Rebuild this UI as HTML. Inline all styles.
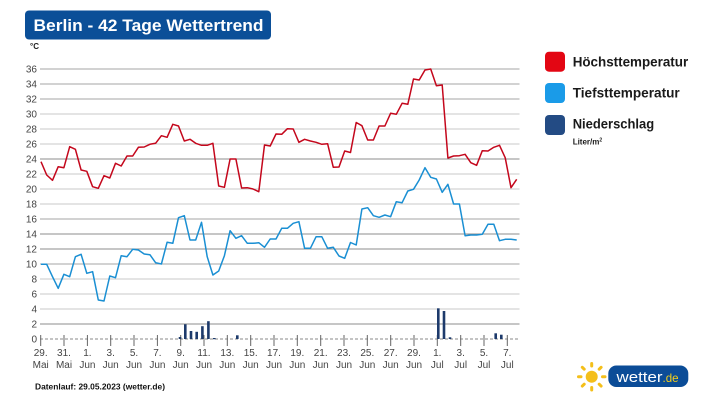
<!DOCTYPE html>
<html><head><meta charset="utf-8"><style>
html,body{margin:0;padding:0;background:#fff;}
svg{display:block;}
text{font-family:"Liberation Sans",Arial,sans-serif;}
</style></head><body>
<svg width="717" height="403" viewBox="0 0 717 403" xmlns="http://www.w3.org/2000/svg">
<rect width="717" height="403" fill="#fff"/>
<!-- title -->
<rect x="25" y="10.5" width="246" height="29" rx="4" fill="#0b4f98"/>
<text x="33.5" y="31" font-size="17" font-weight="bold" fill="#fff" textLength="230" lengthAdjust="spacingAndGlyphs">Berlin - 42 Tage Wettertrend</text>
<text x="30" y="49" font-size="8" font-weight="bold" fill="#222">°C</text>
<!-- gridlines -->
<g stroke="#a4a4a4" stroke-width="1">
<line x1="40" y1="69" x2="519.5" y2="69"/><line x1="40" y1="84" x2="519.5" y2="84"/><line x1="40" y1="99" x2="519.5" y2="99"/><line x1="40" y1="114" x2="519.5" y2="114" stroke="#c8c8c8"/><line x1="40" y1="129" x2="519.5" y2="129" stroke="#c8c8c8"/><line x1="40" y1="144" x2="519.5" y2="144" stroke="#c8c8c8"/><line x1="40" y1="159" x2="519.5" y2="159" stroke="#8c8c8c"/><line x1="40" y1="174" x2="519.5" y2="174" stroke="#c8c8c8"/><line x1="40" y1="189" x2="519.5" y2="189" stroke="#c8c8c8"/><line x1="40" y1="204" x2="519.5" y2="204" stroke="#c8c8c8"/><line x1="40" y1="219" x2="519.5" y2="219"/><line x1="40" y1="234" x2="519.5" y2="234" stroke="#8c8c8c"/><line x1="40" y1="249" x2="519.5" y2="249" stroke="#8c8c8c"/><line x1="40" y1="264" x2="519.5" y2="264"/><line x1="40" y1="279" x2="519.5" y2="279" stroke="#c8c8c8"/><line x1="40" y1="294" x2="519.5" y2="294" stroke="#c8c8c8"/><line x1="40" y1="309" x2="519.5" y2="309" stroke="#c8c8c8"/><line x1="40" y1="324" x2="519.5" y2="324" stroke="#8c8c8c"/>
</g>
<line x1="40" y1="339" x2="519.5" y2="339" stroke="#8a8a8a" stroke-width="1" stroke-dasharray="3,2"/>
<!-- y labels -->
<g font-size="10" fill="#444" text-anchor="end">
<text x="37" y="72.5">36</text><text x="37" y="87.5">34</text><text x="37" y="102.5">32</text><text x="37" y="117.5">30</text><text x="37" y="132.5">28</text><text x="37" y="147.5">26</text><text x="37" y="162.5">24</text><text x="37" y="177.5">22</text><text x="37" y="192.5">20</text><text x="37" y="207.5">18</text><text x="37" y="222.5">16</text><text x="37" y="237.5">14</text><text x="37" y="252.5">12</text><text x="37" y="267.5">10</text><text x="37" y="282.5">8</text><text x="37" y="297.5">6</text><text x="37" y="312.5">4</text><text x="37" y="327.5">2</text><text x="37" y="342.5">0</text>
</g>
<!-- x ticks -->
<g stroke="#666" stroke-width="1">
<line x1="40.7" y1="335" x2="40.7" y2="346"/><line x1="64" y1="335" x2="64" y2="346"/><line x1="87.4" y1="335" x2="87.4" y2="346"/><line x1="110.7" y1="335" x2="110.7" y2="346"/><line x1="134" y1="335" x2="134" y2="346"/><line x1="157.4" y1="335" x2="157.4" y2="346"/><line x1="180.7" y1="335" x2="180.7" y2="346"/><line x1="204" y1="335" x2="204" y2="346"/><line x1="227.3" y1="335" x2="227.3" y2="346"/><line x1="250.7" y1="335" x2="250.7" y2="346"/><line x1="274" y1="335" x2="274" y2="346"/><line x1="297.3" y1="335" x2="297.3" y2="346"/><line x1="320.7" y1="335" x2="320.7" y2="346"/><line x1="344" y1="335" x2="344" y2="346"/><line x1="367.3" y1="335" x2="367.3" y2="346"/><line x1="390.7" y1="335" x2="390.7" y2="346"/><line x1="414" y1="335" x2="414" y2="346"/><line x1="437.3" y1="335" x2="437.3" y2="346"/><line x1="460.7" y1="335" x2="460.7" y2="346"/><line x1="484" y1="335" x2="484" y2="346"/><line x1="507.3" y1="335" x2="507.3" y2="346"/>
</g>
<g font-size="10" fill="#444" text-anchor="middle">
<text x="40.7" y="356">29.</text><text x="40.7" y="368">Mai</text>
<text x="64" y="356">31.</text><text x="64" y="368">Mai</text>
<text x="87.4" y="356">1.</text><text x="87.4" y="368">Jun</text>
<text x="110.7" y="356">3.</text><text x="110.7" y="368">Jun</text>
<text x="134" y="356">5.</text><text x="134" y="368">Jun</text>
<text x="157.4" y="356">7.</text><text x="157.4" y="368">Jun</text>
<text x="180.7" y="356">9.</text><text x="180.7" y="368">Jun</text>
<text x="204" y="356">11.</text><text x="204" y="368">Jun</text>
<text x="227.3" y="356">13.</text><text x="227.3" y="368">Jun</text>
<text x="250.7" y="356">15.</text><text x="250.7" y="368">Jun</text>
<text x="274" y="356">17.</text><text x="274" y="368">Jun</text>
<text x="297.3" y="356">19.</text><text x="297.3" y="368">Jun</text>
<text x="320.7" y="356">21.</text><text x="320.7" y="368">Jun</text>
<text x="344" y="356">23.</text><text x="344" y="368">Jun</text>
<text x="367.3" y="356">25.</text><text x="367.3" y="368">Jun</text>
<text x="390.7" y="356">27.</text><text x="390.7" y="368">Jun</text>
<text x="414" y="356">29.</text><text x="414" y="368">Jun</text>
<text x="437.3" y="356">1.</text><text x="437.3" y="368">Jul</text>
<text x="460.7" y="356">3.</text><text x="460.7" y="368">Jul</text>
<text x="484" y="356">5.</text><text x="484" y="368">Jul</text>
<text x="507.3" y="356">7.</text><text x="507.3" y="368">Jul</text>
</g>
<!-- precipitation bars -->
<g fill="#1d3a6b">
<rect x="178.7" y="337" width="2.6" height="2"/>
<rect x="184" y="324.3" width="2.6" height="14.7"/>
<rect x="189.7" y="331" width="2.6" height="8"/>
<rect x="195.4" y="331.8" width="2.6" height="7.2"/>
<rect x="201.1" y="326.2" width="2.6" height="12.8"/>
<rect x="207.1" y="321.2" width="2.6" height="17.8"/>
<rect x="213" y="338" width="2.6" height="1.2"/>
<rect x="236" y="335.3" width="2.6" height="3.7"/>
<rect x="437" y="308.3" width="2.6" height="30.7"/>
<rect x="442.7" y="311" width="2.6" height="28"/>
<rect x="448.7" y="337.3" width="2.6" height="1.7"/>
<rect x="494.4" y="333.3" width="2.6" height="5.7"/>
<rect x="500" y="334.7" width="2.6" height="4.3"/>
</g>
<!-- high temp -->
<polyline fill="none" stroke="#c4071c" stroke-width="1.5" stroke-linejoin="round" points="41,161.7 46.7,175 52.5,180.3 58.2,166.7 63.9,167.7 69.7,146.7 75.4,149.3 81.1,170 86.8,171.3 92.6,186.7 98.3,188.3 104,175.7 109.8,178 115.5,163.3 121.2,166 127,156 132.7,156 138.4,147.3 144.2,147 149.9,144.3 155.6,143.3 161.4,135.7 167.1,137.3 172.8,124.3 178.5,126 184.3,141 190,139.3 195.7,143.3 201.5,145.3 207.2,145.3 212.9,143.3 218.7,186 224.4,187.3 230.1,159 235.9,159 241.6,188 247.3,187.7 253,189 258.8,191.7 264.5,145 270.2,146 276,134 281.7,134.3 287.4,128.7 293.2,129 298.9,142.3 304.6,139.3 310.4,141 316.1,142.3 321.8,144.3 327.6,143.7 333.3,167.3 339,167 344.7,151 350.5,152.5 356.2,122.5 361.9,125.7 367.7,140 373.4,140 379.1,126 384.9,126 390.6,113.3 396.3,114.3 402.1,103.3 407.8,104.3 413.5,79 419.2,80 425,70 430.7,69 436.4,85.7 442.2,85 447.9,158 453.6,156 459.4,155.7 465.1,154.3 470.8,162.7 476.6,165.3 482.3,150.7 488,151 493.8,147.3 499.5,145.3 505.2,157.7 511,187.7 516.7,179.3"/>
<!-- low temp -->
<polyline fill="none" stroke="#1a8fd3" stroke-width="1.5" stroke-linejoin="round" points="41,264.3 46.7,264.3 52.5,276.7 58.2,288.3 63.9,274.3 69.7,276.7 75.4,256.7 81.1,254.3 86.8,273.3 92.6,271.7 98.3,300 104,301 109.8,276 115.5,277.7 121.2,255.7 127,256.7 132.7,249.3 138.4,250 144.2,254 149.9,254.7 155.6,262.7 161.4,264 167.1,242.3 172.8,243.3 178.5,217.7 184.3,215.7 190,240 195.7,240 201.5,222.3 207.2,256.7 212.9,275 218.7,271 224.4,255.7 230.1,230.7 235.9,238.3 241.6,235.7 247.3,243.3 253,243.3 258.8,242.7 264.5,247.3 270.2,239 276,239 281.7,228.3 287.4,228.3 293.2,223.3 298.9,221.7 304.6,248.3 310.4,248.3 316.1,236.7 321.8,236.7 327.6,248.3 333.3,247.3 339,256 344.7,258.3 350.5,242.5 356.2,245 361.9,209 367.7,207.7 373.4,215.7 379.1,217.3 384.9,215 390.6,216.7 396.3,201.7 402.1,202.7 407.8,191 413.5,189.3 419.2,180 425,167.7 430.7,177.3 436.4,179 442.2,192.3 447.9,184.3 453.6,204 459.4,204 465.1,235.7 470.8,235 476.6,235 482.3,234.3 488,224.3 493.8,224.3 499.5,240.7 505.2,239.3 511,239.3 516.7,240"/>
<!-- legend -->
<rect x="545" y="51.7" width="20" height="20" rx="4" fill="#e30613"/>
<rect x="545" y="83" width="20" height="20" rx="4" fill="#1a9be8"/>
<rect x="545" y="115" width="20" height="20" rx="4" fill="#234b84"/>
<g font-size="14" font-weight="bold" fill="#1a1a1a">
<text x="572.7" y="66.7" textLength="115.5" lengthAdjust="spacingAndGlyphs">Höchsttemperatur</text>
<text x="572.7" y="97.5" textLength="107" lengthAdjust="spacingAndGlyphs">Tiefsttemperatur</text>
<text x="572.7" y="128.5" textLength="81.5" lengthAdjust="spacingAndGlyphs">Niederschlag</text>
</g>
<text x="572.7" y="144.3" font-size="8" font-weight="bold" fill="#1a1a1a">Liter/m<tspan font-size="5" dy="-3">2</tspan></text>
<!-- footer -->
<text x="35" y="389.5" font-size="8.6" font-weight="bold" fill="#111" textLength="130" lengthAdjust="spacingAndGlyphs">Datenlauf: 29.05.2023 (wetter.de)</text>
<!-- logo -->
<g stroke="#f4bf1a" stroke-width="3" stroke-linecap="round">
<line x1="591.7" y1="363.5" x2="591.7" y2="366"/>
<line x1="591.7" y1="387.5" x2="591.7" y2="390"/>
<line x1="578.5" y1="376.7" x2="581" y2="376.7"/>
<line x1="602.5" y1="376.7" x2="605" y2="376.7"/>
<line x1="582.3" y1="367.3" x2="584.2" y2="369.2"/>
<line x1="599.2" y1="384.2" x2="601.1" y2="386.1"/>
<line x1="601.1" y1="367.3" x2="599.2" y2="369.2"/>
<line x1="584.2" y1="384.2" x2="582.3" y2="386.1"/>
</g>
<circle cx="591.7" cy="376.7" r="6" fill="#f4bf1a"/>
<rect x="608.3" y="365.5" width="80" height="21.5" rx="8" fill="#0b4c97"/>
<text x="616.5" y="381.8" font-size="15" fill="#fff" textLength="46" lengthAdjust="spacingAndGlyphs">wetter</text>
<text x="662.5" y="381.8" font-size="12" fill="#f4cf1a" textLength="16" lengthAdjust="spacingAndGlyphs">.de</text>
</svg>
</body></html>
